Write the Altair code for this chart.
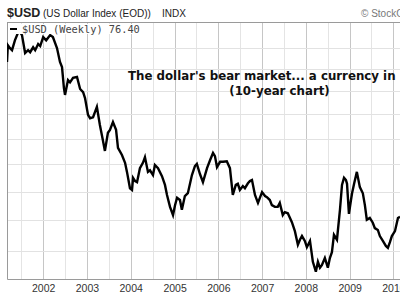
import altair as alt
import pandas as pd

# Weekly closes of $USD
dates = [
    "2001-03-05", "2001-03-12", "2001-03-30", "2001-04-16", "2001-05-10", "2001-06-13",
    "2001-07-08", "2001-08-03", "2001-08-28", "2001-09-14", "2001-10-09", "2001-10-26",
    "2001-11-20", "2001-12-07", "2002-01-01", "2002-01-26", "2002-02-28", "2002-03-23",
    "2002-04-26", "2002-05-21", "2002-06-07", "2002-06-23", "2002-07-02", "2002-07-27",
    "2002-08-13", "2002-09-07", "2002-10-10", "2002-11-05", "2002-11-30", "2002-12-16",
    "2003-01-10", "2003-01-27", "2003-02-21", "2003-03-25", "2003-04-19", "2003-05-14",
    "2003-05-31", "2003-06-25", "2003-07-12", "2003-08-06", "2003-09-01", "2003-09-17",
    "2003-10-20", "2003-11-15", "2003-12-01", "2003-12-26", "2004-01-12", "2004-01-21",
    "2004-02-07", "2004-02-23", "2004-03-18", "2004-04-12", "2004-04-29", "2004-05-24",
    "2004-06-10", "2004-07-05", "2004-07-21", "2004-08-16", "2004-09-18", "2004-10-13",
    "2004-10-30", "2004-11-24", "2004-12-19", "2005-01-05", "2005-01-22", "2005-02-15",
    "2005-03-03", "2005-03-28", "2005-04-22", "2005-05-26", "2005-06-20", "2005-07-06",
    "2005-08-01", "2005-08-26", "2005-09-29", "2005-10-24", "2005-11-18", "2005-12-04",
    "2005-12-21", "2006-01-16", "2006-02-10", "2006-03-13", "2006-04-08", "2006-05-02",
    "2006-05-27", "2006-06-13", "2006-06-30", "2006-07-25", "2006-08-11", "2006-09-05",
    "2006-09-22", "2006-10-09", "2006-11-03", "2006-11-28", "2007-01-01", "2007-01-26",
    "2007-02-11", "2007-03-07", "2007-03-24", "2007-04-18", "2007-05-12", "2007-05-29",
    "2007-06-23", "2007-07-10", "2007-08-04", "2007-09-07", "2007-10-02", "2007-10-27",
    "2007-11-13", "2007-11-30", "2007-12-24", "2008-01-10", "2008-02-05", "2008-02-29",
    "2008-03-25", "2008-04-11", "2008-04-28", "2008-05-14", "2008-06-08", "2008-07-03",
    "2008-07-20", "2008-08-06", "2008-08-23", "2008-09-17", "2008-10-12", "2008-10-29",
    "2008-11-15", "2008-12-01", "2008-12-10", "2008-12-26", "2009-01-12", "2009-01-21",
    "2009-02-07", "2009-03-02", "2009-03-27", "2009-04-21", "2009-05-08", "2009-05-24",
    "2009-06-18", "2009-07-13", "2009-07-30", "2009-08-24", "2009-09-10", "2009-10-05",
    "2009-10-30", "2009-11-16", "2009-12-03", "2009-12-19", "2010-01-14", "2010-02-08",
    "2010-02-25",
]
usd = [
    111.7, 115.7, 115.0, 114.5, 116.9, 119.4,
    118.2, 113.8, 114.5, 114.0, 115.2, 114.5,
    116.0, 115.5, 117.7, 116.9, 118.2, 117.7,
    115.0, 111.7, 110.5, 105.7, 104.2, 107.5,
    107.0, 108.0, 108.2, 105.5, 104.8, 103.5,
    99.9, 99.2, 99.4, 101.6, 97.8, 94.7,
    92.6, 96.2, 96.8, 98.4, 96.8, 93.2,
    91.8, 90.3, 88.6, 85.6, 85.3, 87.5,
    86.9, 86.7, 89.3, 90.3, 91.4, 88.6,
    88.9, 88.0, 89.9, 89.3, 87.8, 86.2,
    84.4, 82.3, 80.9, 82.6, 83.9, 83.5,
    81.8, 84.2, 84.7, 88.0, 89.7, 90.1,
    88.2, 86.7, 89.3, 90.8, 92.2, 91.6,
    89.5, 90.5, 90.5, 90.6, 89.3, 84.4,
    86.2, 86.4, 85.3, 86.0, 85.6, 86.5,
    86.9, 87.1, 84.4, 83.0, 84.9, 84.2,
    84.0, 83.5, 82.6, 82.3, 82.3, 83.0,
    80.9, 81.4, 81.2, 79.7, 78.2, 76.0,
    76.8, 77.4, 76.6, 75.6, 76.6, 73.3,
    71.8, 73.3, 72.4, 72.8, 73.9, 72.4,
    73.9, 74.8, 77.6, 76.8, 81.8, 86.2,
    87.5, 87.1, 86.4, 81.1, 83.5, 84.7,
    86.4, 88.6, 85.8, 84.7, 82.6, 80.1,
    80.4, 79.6, 78.7, 78.4, 77.4, 76.6,
    75.8, 75.5, 76.4, 77.4, 78.2, 80.4,
    80.6,
]

y_grid = [75, 80, 85, 90, 95, 100, 105, 110, 115]
grid_years = list(range(2001, 2011))

title_main = "$USD"
title_desc = "(US Dollar Index (EOD))"
title_exch = "INDX"
legend_text = "$USD (Weekly) 76.40"
note_line1 = "The dollar's bear market... a currency in"
note_line2 = "(10-year chart)"
watermark = "\u00a9 StockCharts.com"

df = pd.DataFrame({"date": dates, "usd": usd})

tick_values = []
for yr in grid_years:
    if yr > 2001:
        tick_values.append(alt.DateTime(year=yr, month=1, date=1, utc=True))
    tick_values.append(alt.DateTime(year=yr, month=7, date=1, utc=True))

W, H = 393, 257

x_enc = alt.X(
    "date:T",
    scale=alt.Scale(domain=[alt.DateTime(year=2001, month=3, date=5, utc=True),
                            alt.DateTime(year=2010, month=2, date=25, utc=True)]),
    axis=alt.Axis(
        values=tick_values,
        labelExpr="utcmonth(datum.value) == 0 ? utcFormat(datum.value, '%Y') : ''",
        grid=True,
        gridColor={"condition": {"test": "utcmonth(datum.value) == 0", "value": "#c6c6c6"},
                   "value": "#e4e4e4"},
        gridWidth=1,
        ticks=False,
        domainColor="#9a9a9a",
        labelFont="Liberation Sans",
        labelFontSize=10.5,
        labelColor="#333333",
        labelPadding=4,
        labelFlush=False,
        labelOverlap=False,
        title=None,
    ),
)
y_enc = alt.Y(
    "usd:Q",
    scale=alt.Scale(type="log", domain=[70.7, 121.5], nice=False),
    axis=alt.Axis(values=y_grid, labels=False, ticks=False, grid=True,
                  gridColor="#e2e2e2", domainColor="#9a9a9a", title=None),
)

line = alt.Chart(df).mark_line(color="black", strokeWidth=2.4, clip=True).encode(x=x_enc, y=y_enc)

one = pd.DataFrame({"k": [0]})

top_border = alt.Chart(one).mark_rule(color="#9a9a9a").encode(
    x=alt.value(0), x2=alt.value(W), y=alt.value(0.5))

legend_box = alt.Chart(one).mark_rect(color="white").encode(
    x=alt.value(1), x2=alt.value(136), y=alt.value(2), y2=alt.value(12))
legend_dash = alt.Chart(one).mark_rule(color="black", strokeWidth=2).encode(
    x=alt.value(3), x2=alt.value(10), y=alt.value(7))
legend_lbl = alt.Chart(one).mark_text(
    font="DejaVu Sans Mono", fontSize=10.3, color="#444444", align="left", baseline="alphabetic"
).encode(x=alt.value(15), y=alt.value(11), text=alt.value(legend_text))

t_main = alt.Chart(one).mark_text(
    font="Liberation Sans", fontSize=12.5, fontWeight="bold", color="#222222",
    align="left", baseline="alphabetic"
).encode(x=alt.value(0), y=alt.value(-5), text=alt.value(title_main))
t_desc = alt.Chart(one).mark_text(
    font="Liberation Sans", fontSize=10, color="#222222", align="left", baseline="alphabetic"
).encode(x=alt.value(36), y=alt.value(-5), text=alt.value(title_desc))
t_exch = alt.Chart(one).mark_text(
    font="Liberation Sans", fontSize=10, color="#222222", align="left", baseline="alphabetic"
).encode(x=alt.value(155), y=alt.value(-5), text=alt.value(title_exch))
t_wm = alt.Chart(one).mark_text(
    font="Liberation Sans", fontSize=10, color="#777777", align="left", baseline="alphabetic"
).encode(x=alt.value(354), y=alt.value(-5), text=alt.value(watermark))

note1 = alt.Chart(one).mark_text(
    font="DejaVu Sans", fontSize=11.8, fontWeight="bold", color="#111111",
    align="left", baseline="alphabetic"
).encode(x=alt.value(121), y=alt.value(58), text=alt.value(note_line1))
note2 = alt.Chart(one).mark_text(
    font="DejaVu Sans", fontSize=11.8, fontWeight="bold", color="#111111",
    align="center", baseline="alphabetic"
).encode(x=alt.value(272.5), y=alt.value(73), text=alt.value(note_line2))

chart = alt.layer(
    line, top_border, legend_box, legend_dash, legend_lbl,
    t_main, t_desc, t_exch, t_wm, note1, note2,
).properties(
    width=W, height=H,
    autosize=alt.AutoSizeParams(type="none"),
    padding={"left": 7, "top": 22, "right": 0, "bottom": 18},
    background="white",
).configure_view(stroke=None)

chart.save("out.html", embed_options={"renderer": "svg", "actions": False})
